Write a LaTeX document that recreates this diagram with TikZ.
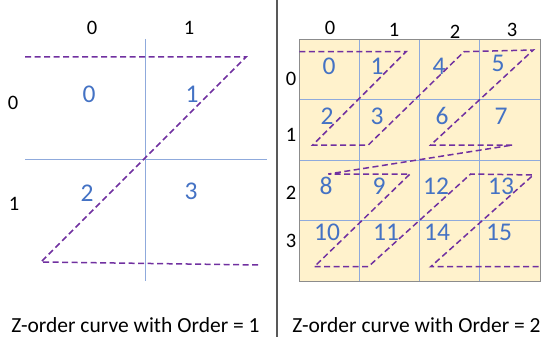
\documentclass[tikz,border=0pt]{standalone}
\usepackage{fontspec}
\setmainfont{Carlito}
\definecolor{numblue}{HTML}{4472C4}
\definecolor{gridblue}{HTML}{8FAADC}
\definecolor{zpurple}{HTML}{7030A0}
\definecolor{cream}{HTML}{FFF2CC}
\begin{document}
\begin{tikzpicture}[x=1pt, y=-1pt, every node/.style={inner sep=0pt}, lbl/.style={font=\fontsize{20.5}{21}\selectfont}, num/.style={font=\fontsize{25.5}{26}\selectfont, text=numblue}, captxt/.style={font=\fontsize{21.5}{22}\selectfont}, gl/.style={draw=gridblue, line width=0.9pt}, zc/.style={draw=zpurple, dash pattern=on 6pt off 3.5pt, line width=1.5pt}]
	\useasboundingbox (0,0) rectangle (546,337);
	% order 1
	\begin{scope}
		\draw[gl] (145,39) -- (145,281); \draw[gl] (25,159) -- (267,159);
		\node[lbl] (c0) at (92,28) {0}; \node[lbl] (c1) at (189,28) {1}; \node[lbl] (r0) at (13,103) {0}; \node[lbl] (r1) at (14,204) {1};
		\foreach \n/\x/\y in {0/89/94, 1/192/94, 2/87/193, 3/191/191} {\node[num] (m\n) at (\x,\y) {\n};}
		\coordinate (z0) at (25,57); \coordinate (z1) at (246,57); \coordinate (z2) at (41,262); \coordinate (z3) at (261,265);
		\draw[zc] (z0) -- (z1) -- (z2) -- (z3);
		\node[captxt] (t1) at (135.5,325) {Z-order curve with Order = 1};
	\end{scope}
	\draw[black!65, line width=1.1pt] (277,0) -- (277,337);
	% order 2
	\begin{scope}
		\draw[gl, fill=cream] (299,39) rectangle (540,281);
		\foreach \i in {1,2,3} {\draw[gl] (299+60.25*\i,39) -- (299+60.25*\i,281); \draw[gl] (299,39+60.5*\i) -- (540,39+60.5*\i);}
		\draw[black!45, line width=0.9pt] (299,39) rectangle (540,281);
		\foreach \n/\x/\y in {0/330/28, 1/394/30, 2/455/32, 3/512/30} {\node[lbl] (cc\n) at (\x,\y) {\n};}
		\foreach \n/\y in {0/79, 1/135, 2/193, 3/241} {\node[lbl] (rr\n) at (291,\y) {\n};}
		\foreach \n/\x/\y in {0/329/66, 1/377/66, 4/439/66, 5/498/63, 2/327/116, 3/377/116, 6/442/116, 7/501/116, 8/326/186, 9/379/186, 12/436/186, 13/501/186, 10/327/232, 11/386/232, 14/437/232, 15/499/232} {\node[num] (n\n) at (\x,\y) {\n};}
		\foreach \k/\x/\y in {0/299.3/51.7, 1/406/51.7, 2/312.7/145, 3/368.3/145, 4/464/51.7, 5/533.3/50, 6/430.7/145, 7/512.7/145, 8/328.3/174, 9/410/174, 10/314.3/266.7, 11/368.3/266.7, 12/470.7/174, 13/533.3/175, 14/430.7/266.7, 15/540/266.7} {\coordinate (p\k) at (\x,\y);}
		\draw[zc] (p0) -- (p1) -- (p2) -- (p3) -- (p4) -- (p5) -- (p6) -- (p7) -- (p8) -- (p9) -- (p10) -- (p11) -- (p12) -- (p13) -- (p14) -- (p15);
		\node[captxt] (t2) at (416.5,325) {Z-order curve with Order = 2};
	\end{scope}
\end{tikzpicture}
\end{document}
